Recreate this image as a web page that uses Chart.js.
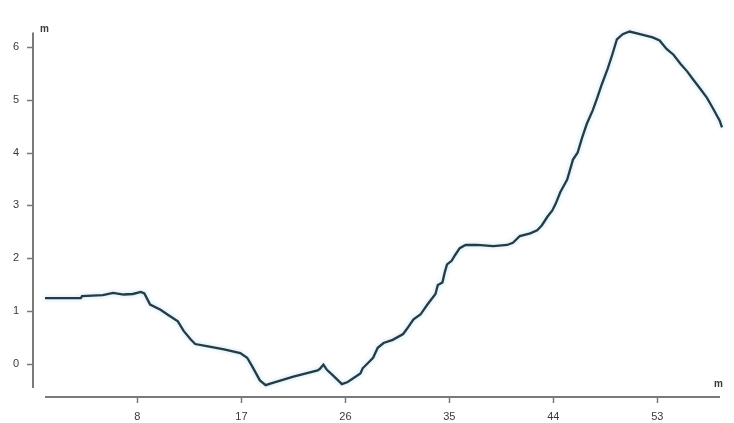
<!DOCTYPE html>
<html>
<head>
<meta charset="utf-8">
<script src="https://cdn.jsdelivr.net/npm/chart.js@4/dist/chart.umd.min.js"></script>
<style>
  html, body { margin: 0; padding: 0; background: #ffffff; overflow: hidden; }
  #wrap { width: 734px; height: 423px; }
  canvas { display: block; }
</style>
</head>
<body>
<div id="wrap"><canvas id="profile" width="734" height="423"></canvas></div>
<script>
// Terrain profile: distance along the section (m) and height (m)
const distances = [
  0.0, 1.5, 3.1, 3.2, 5.0, 5.9, 6.8, 7.6, 8.3, 8.6,
  9.1, 10.0, 10.6, 11.5, 12.0, 12.6, 13.0, 14.0, 15.5, 16.9,
  17.5, 17.9, 18.6, 19.1, 19.5, 21.5, 23.6, 23.8, 24.1, 24.4,
  24.9, 25.7, 26.2, 27.3, 27.5, 28.0, 28.4, 28.8, 29.3, 30.1,
  31.0, 31.3, 31.9, 32.5, 33.1, 33.8, 34.0, 34.4, 34.6, 34.8,
  35.2, 35.5, 35.9, 36.4, 37.4, 38.8, 40.0, 40.5, 41.1, 42.0,
  42.6, 43.0, 43.5, 43.9, 44.2, 44.6, 45.2, 45.7, 46.1, 46.5,
  46.9, 47.4, 47.8, 48.2, 48.7, 49.1, 49.5, 50.0, 50.6, 51.5,
  52.6, 53.2, 53.8, 54.4, 55.0, 55.6, 56.1, 56.7, 57.3, 57.8,
  58.4, 58.6
];
const heights = [
  1.24, 1.24, 1.24, 1.28, 1.30, 1.34, 1.31, 1.32, 1.36, 1.33,
  1.12, 1.02, 0.93, 0.80, 0.62, 0.46, 0.37, 0.33, 0.27, 0.20,
  0.11, -0.04, -0.32, -0.41, -0.38, -0.25, -0.13, -0.10, -0.02, -0.12,
  -0.22, -0.39, -0.35, -0.19, -0.09, 0.02, 0.11, 0.30, 0.39, 0.45,
  0.56, 0.65, 0.84, 0.93, 1.12, 1.32, 1.49, 1.54, 1.73, 1.88,
  1.95, 2.06, 2.19, 2.25, 2.25, 2.23, 2.25, 2.29, 2.42, 2.47,
  2.53, 2.62, 2.79, 2.90, 3.03, 3.25, 3.49, 3.87, 4.00, 4.29,
  4.55, 4.80, 5.04, 5.30, 5.59, 5.86, 6.15, 6.25, 6.30, 6.25,
  6.19, 6.13, 5.97, 5.86, 5.69, 5.54, 5.39, 5.22, 5.04, 4.85,
  4.61, 4.48
];
const xTickValues = [8, 17, 26, 35, 44, 53];
const yTickValues = [0, 1, 2, 3, 4, 5, 6];
const unitLabel = 'm';

const points = distances.map((d, i) => ({ x: d, y: heights[i] }));

const AXIS_COLOR = '#7a7a7a';
const TEXT_COLOR = '#3a3a3a';
const FONT = { family: '"Liberation Sans", Arial, sans-serif', size: 11 };

// Axis lines sit slightly apart from the plot area, so they are drawn here
// from the scale pixel positions instead of the built-in borders.
const detachedAxes = {
  id: 'detachedAxes',
  afterDraw(chart) {
    const { ctx, chartArea: a, scales: { x, y } } = chart;
    const axisX = a.left - 12;
    const axisY = a.bottom + 9;
    ctx.save();
    ctx.strokeStyle = AXIS_COLOR;
    ctx.lineWidth = 2;
    ctx.beginPath();
    ctx.moveTo(axisX, a.top);
    ctx.lineTo(axisX, a.bottom);
    ctx.moveTo(a.left, axisY);
    ctx.lineTo(a.right - 2, axisY);
    ctx.stroke();
    ctx.lineWidth = 1.5;
    ctx.beginPath();
    y.ticks.forEach(t => {
      const py = Math.round(y.getPixelForValue(t.value)) + 0.5;
      ctx.moveTo(axisX - 6, py);
      ctx.lineTo(axisX, py);
    });
    x.ticks.forEach(t => {
      const px = Math.round(x.getPixelForValue(t.value)) + 0.5;
      ctx.moveTo(px, axisY);
      ctx.lineTo(px, axisY + 6);
    });
    ctx.stroke();
    ctx.fillStyle = TEXT_COLOR;
    ctx.font = 'bold 10px "Liberation Sans", Arial, sans-serif';
    ctx.textBaseline = 'alphabetic';
    ctx.textAlign = 'left';
    ctx.fillText(unitLabel, axisX + 7, a.top - 1);
    ctx.textAlign = 'right';
    ctx.fillText(unitLabel, a.right + 1, axisY - 10);
    ctx.restore();
  }
};

// Soft light-blue fringe along the profile line
const lineHalo = {
  id: 'lineHalo',
  beforeDatasetDraw(chart) {
    chart.ctx.save();
    chart.ctx.shadowColor = 'rgba(150, 205, 235, 0.7)';
    chart.ctx.shadowBlur = 4;
  },
  afterDatasetDraw(chart) {
    chart.ctx.restore();
  }
};

new Chart(document.getElementById('profile'), {
  type: 'line',
  data: {
    datasets: [{
      data: points,
      borderColor: '#253c44',
      borderWidth: 2.3,
      pointRadius: 0,
      tension: 0,
      fill: false,
      clip: false
    }]
  },
  options: {
    responsive: false,
    animation: false,
    layout: { padding: { top: 25, right: 12, bottom: 0, left: 0 } },
    plugins: {
      legend: { display: false },
      tooltip: { enabled: false }
    },
    scales: {
      x: {
        type: 'linear',
        min: 0,
        max: 58.6,
        grid: { display: false, drawTicks: false },
        border: { display: false },
        afterBuildTicks: s => { s.ticks = xTickValues.map(v => ({ value: v })); },
        afterFit: s => { s.height = 35; },
        ticks: { color: TEXT_COLOR, font: FONT, padding: 22, maxRotation: 0, autoSkip: false }
      },
      y: {
        type: 'linear',
        min: -0.464,
        max: 6.28,
        grid: { display: false, drawTicks: false },
        border: { display: false },
        afterBuildTicks: s => { s.ticks = yTickValues.map(v => ({ value: v })); },
        afterFit: s => { s.width = 45; },
        ticks: { color: TEXT_COLOR, font: FONT, padding: 26 }
      }
    }
  },
  plugins: [lineHalo, detachedAxes]
});
</script>
</body>
</html>
